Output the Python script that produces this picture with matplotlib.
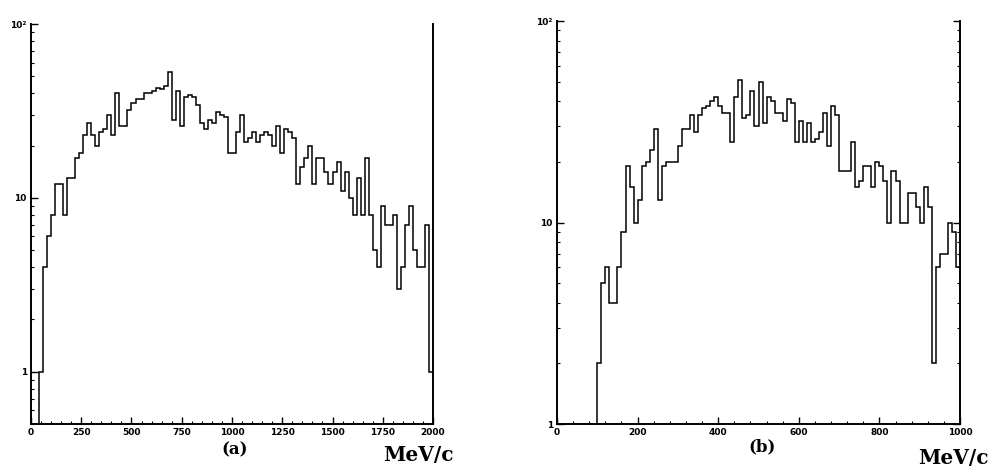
import numpy as np
import matplotlib
matplotlib.use("Agg")
import matplotlib.pyplot as plt
from matplotlib.ticker import FixedLocator, NullFormatter, LogLocator

# ---------------- data ----------------
# panel (a): 100 bins of 20 MeV/c from 0 to 2000
edges_a_range = (0, 2000)
counts_a = [0, 0, 1, 4, 6, 8, 12, 12, 8, 13,
            13, 17, 18, 23, 27, 23, 20, 24, 25, 30,
            23, 40, 26, 26, 32, 35, 37, 37, 40, 40,
            41, 43, 42, 44, 53, 28, 41, 26, 38, 39,
            38, 34, 27, 25, 28, 27, 31, 30, 29, 18,
            18, 24, 30, 21, 22, 24, 21, 23, 24, 23,
            20, 26, 18, 25, 24, 22, 12, 15, 17, 20,
            12, 17, 17, 14, 12, 14, 16, 11, 14, 10,
            8, 13, 8, 17, 8, 5, 4, 9, 7, 7,
            8, 3, 4, 7, 9, 5, 4, 4, 7, 1]

# panel (b): 100 bins of 10 MeV/c from 0 to 1000
edges_b_range = (0, 1000)
counts_b = [0, 0, 0, 0, 0, 0, 0, 0, 0, 0,
            2, 5, 6, 4, 4, 6, 9, 19, 15, 10,
            13, 19, 20, 23, 29, 13, 19, 20, 20, 20,
            24, 29, 29, 34, 28, 34, 37, 38, 40, 42,
            38, 35, 35, 25, 42, 51, 33, 34, 45, 30,
            50, 31, 42, 40, 35, 35, 32, 41, 39, 25,
            32, 25, 31, 25, 26, 28, 35, 24, 38, 34,
            18, 18, 18, 25, 15, 16, 19, 19, 15, 20,
            19, 16, 10, 18, 16, 10, 10, 14, 14, 12,
            10, 15, 12, 2, 6, 7, 7, 10, 9, 6]

xticks_a = [0, 250, 500, 750, 1000, 1250, 1500, 1750, 2000]
xticks_b = [0, 200, 400, 600, 800, 1000]
ylabels = {1: "1", 10: "10", 100: "10²"}

# ---------------- figure ----------------
W, H = 995, 472
fig = plt.figure(figsize=(W / 100, H / 100), dpi=100)

def px_axes(l, r, t, b):
    return fig.add_axes([l / W, 1 - b / H, (r - l) / W, (b - t) / H])

ax_a = px_axes(31, 433, 24, 424)
ax_b = px_axes(557, 960, 21, 424)

def style(ax, counts, rng, ylim, xticks, minor_step, label, lab_xy, mev_xy, right_ticks):
    counts = np.asarray(counts, dtype=float)
    edges = np.linspace(rng[0], rng[1], len(counts) + 1)
    plotv = np.where(counts > 0, counts, 1e-3)
    ax.stairs(plotv, edges, baseline=None, color="black", linewidth=1.1)
    ax.set_yscale("log")
    ax.set_xlim(*rng)
    ax.set_ylim(*ylim)
    ax.spines["top"].set_visible(False)
    for s in ("left", "right", "bottom"):
        ax.spines[s].set_linewidth(1.4)
    ax.set_xticks(xticks)
    ax.set_xticklabels([str(t) for t in xticks])
    ax.xaxis.set_minor_locator(FixedLocator(np.arange(rng[0], rng[1] + 1e-6, minor_step)))
    ax.yaxis.set_major_locator(FixedLocator([1, 10, 100]))
    ax.set_yticklabels([ylabels[v] for v in [1, 10, 100]])
    ax.yaxis.set_minor_locator(LogLocator(base=10, subs=np.arange(2, 10)))
    ax.yaxis.set_minor_formatter(NullFormatter())
    ax.tick_params(axis="both", which="major", direction="in", length=5, width=1.0,
                   labelsize=6.5, pad=3)
    ax.tick_params(axis="both", which="minor", direction="in", length=2.5, width=0.8)
    ax.tick_params(axis="y", right=right_ticks, which="both")
    for t in ax.get_xticklabels() + ax.get_yticklabels():
        t.set_fontweight("bold")
    fig.text(lab_xy[0] / W, 1 - lab_xy[1] / H, label, ha="center", va="center",
             fontsize=12, fontweight="bold", family="DejaVu Serif")
    fig.text(mev_xy[0] / W, 1 - mev_xy[1] / H, "MeV/c", ha="center", va="center",
             fontsize=14.5, fontweight="bold", family="DejaVu Serif")

style(ax_a, counts_a, edges_a_range, (0.5, 100), xticks_a, 50, "(a)", (235, 450), (418, 455), False)
style(ax_b, counts_b, edges_b_range, (1, 100), xticks_b, 40, "(b)", (762, 447), (953, 458), True)

fig.savefig("out.png", dpi=100)
